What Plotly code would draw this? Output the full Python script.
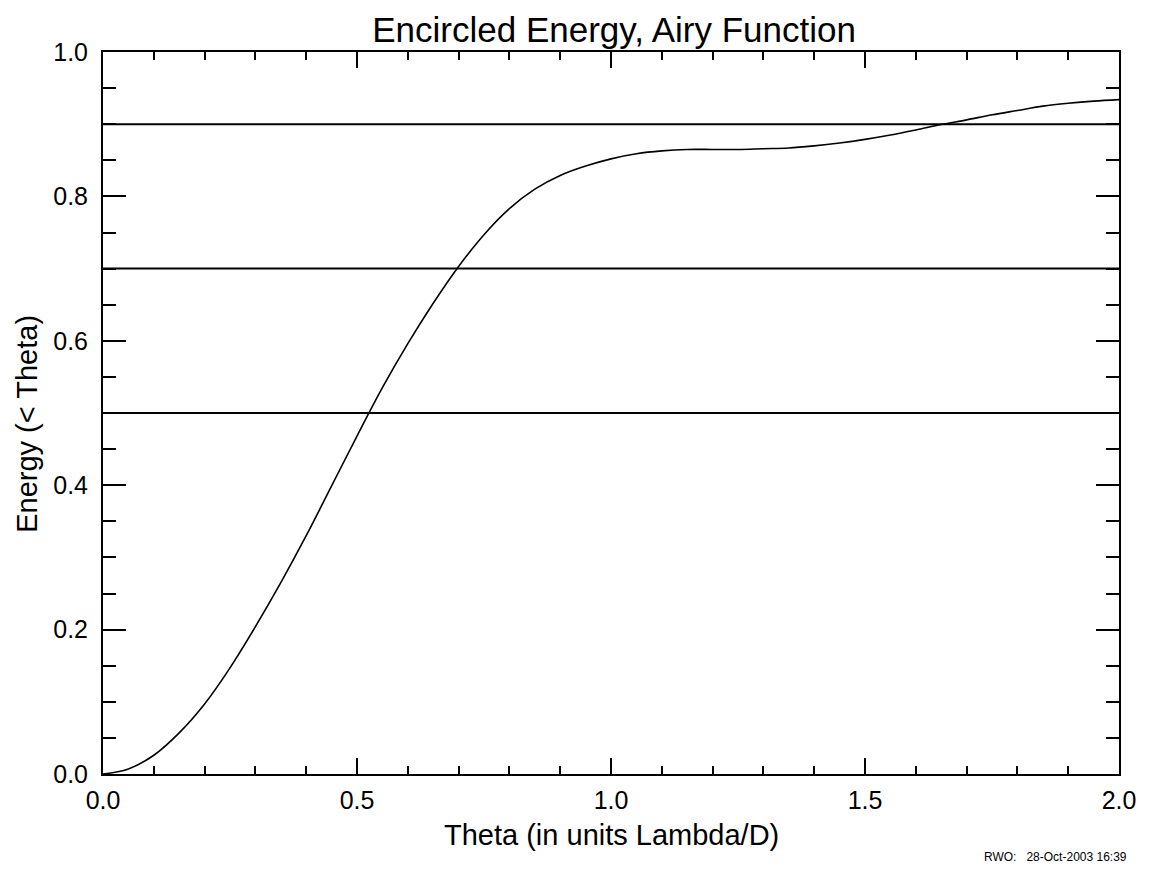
import plotly.graph_objects as go

theta = [0.00, 0.05, 0.10, 0.15, 0.20, 0.25, 0.30, 0.35, 0.40, 0.45,
         0.50, 0.55, 0.60, 0.65, 0.70, 0.75, 0.80, 0.85, 0.90, 0.95,
         1.00, 1.05, 1.10, 1.15, 1.20, 1.25, 1.30, 1.35, 1.40, 1.45,
         1.50, 1.55, 1.60, 1.65, 1.70, 1.75, 1.80, 1.85, 1.90, 1.95, 2.00]
energy = [0.000, 0.007, 0.026, 0.057, 0.097, 0.147, 0.204, 0.265, 0.330, 0.399,
          0.468, 0.535, 0.596, 0.652, 0.703, 0.747, 0.783, 0.810, 0.829, 0.842,
          0.852, 0.859, 0.863, 0.865, 0.865, 0.865, 0.866, 0.867, 0.870, 0.874,
          0.879, 0.885, 0.892, 0.8995, 0.906, 0.913, 0.919, 0.925, 0.929, 0.932, 0.934]
levels = [0.5, 0.7, 0.9]

title_text = "Encircled Energy, Airy Function"
x_title = "Theta (in units Lambda/D)"
y_title = "Energy (< Theta)"
stamp = "RWO:   28-Oct-2003 16:39"

FONT = "Liberation Sans, Arial, sans-serif"

fig = go.Figure()
for lv in levels:
    fig.add_trace(go.Scatter(x=[0, 2], y=[lv, lv], mode="lines",
                             line=dict(color="black", width=2), showlegend=False,
                             hoverinfo="skip"))
fig.add_trace(go.Scatter(x=theta, y=energy, mode="lines",
                         line=dict(color="black", width=1.6, shape="spline", smoothing=1.0),
                         showlegend=False))

fig.update_layout(
    width=1150, height=877,
    margin=dict(l=103, r=31, t=52, b=103),
    paper_bgcolor="white", plot_bgcolor="white",
    font=dict(family=FONT, color="black", size=25),
    title=dict(text=title_text, x=0.534, xanchor="center", y=0.966, yanchor="middle",
               font=dict(size=35, family=FONT)),
    showlegend=False,
)
fig.update_xaxes(
    range=[0, 2], tickvals=[0, 0.5, 1.0, 1.5, 2.0], ticktext=["0.0", "0.5", "1.0", "1.5", "2.0"],
    ticks="inside", ticklen=16, tickwidth=2, tickcolor="black",
    showline=True, linecolor="black", linewidth=2, mirror="ticks",
    showgrid=False, zeroline=False,
    minor=dict(dtick=0.1, tick0=0, ticks="inside", ticklen=8, tickwidth=2, tickcolor="black", showgrid=False),
    ticklabelstandoff=3,
)
fig.add_annotation(text=x_title, xref="paper", yref="paper", x=0.5, y=-0.0845,
                   xanchor="center", yanchor="middle", showarrow=False,
                   font=dict(size=29, family=FONT, color="black"))
fig.update_yaxes(
    range=[0, 1], tickvals=[0, 0.2, 0.4, 0.6, 0.8, 1.0], ticktext=["0.0", "0.2", "0.4", "0.6", "0.8", "1.0"],
    ticks="inside", ticklen=23, tickwidth=2, tickcolor="black",
    showline=True, linecolor="black", linewidth=2, mirror="ticks",
    showgrid=False, zeroline=False,
    minor=dict(dtick=0.05, tick0=0, ticks="inside", ticklen=13, tickwidth=2, tickcolor="black", showgrid=False),
    ticklabelstandoff=8,
)
fig.add_annotation(text=y_title, xref="paper", yref="paper", x=-0.0748, y=0.485,
                   xanchor="center", yanchor="middle", textangle=-90, showarrow=False,
                   font=dict(size=29, family=FONT, color="black"))
fig.add_annotation(text=stamp, xref="paper", yref="paper", x=1.01, y=-0.115,
                   xanchor="right", yanchor="middle", showarrow=False,
                   font=dict(size=12, family=FONT, color="black"))

fig.write_html("out.html")
